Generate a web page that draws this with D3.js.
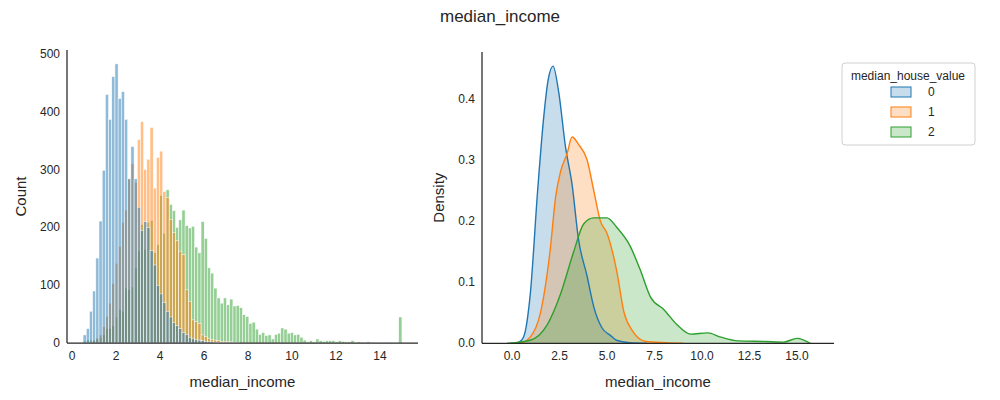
<!DOCTYPE html>
<html><head><meta charset="utf-8">
<script src="https://cdn.jsdelivr.net/npm/d3@7"></script>
<style>body{margin:0;background:#fff}text{font-family:"Liberation Sans",Arial,sans-serif;fill:#262626}</style>
</head><body><svg id="c" width="1000" height="400"></svg>
<script>
const binStart = 0.4999, binWidth = 0.145;
const classes = ["0","1","2"];
const colors = ["#1f77b4","#ff7f0e","#2ca02c"];
const hist0 = [14,25,55,90,147,211,299,430,387,461,483,423,435,387,284,340,284,235,195,210,200,160,135,100,85,70,55,45,35,30,25,18,15,10,8,6,5,4,3,2,2,1,1,1,1,1,1,1];
const hist1 = [0,1,2,4,8,14,28,46,69,103,138,167,208,230,284,310,278,352,383,300,318,373,268,321,332,262,252,214,191,177,159,153,92,72,40,37,34,14,11,8,6,5,4,3,3,2,2,1,1];
const hist2 = [3,5,5,5,8,10,14,25,25,30,45,58,55,95,92,97,130,159,205,162,209,212,156,170,255,190,265,240,229,200,213,230,203,199,202,166,156,210,181,130,121,95,78,69,78,
66,76,64,65,61,49,46,34,36,24,15,18,13,14,7,15,17,26,24,17,18,14,15,10,5,2,4,2,7,4,3,4,4,4,2,4,3,2,2,4,1,2,1,1,2,1,1,0,1,0,1,1,0,0,45];
const kde0 = [[0.2,0],[0.5,0.005],[0.7,0.02],[0.96,0.08],[1.35,0.25],[1.67,0.37],[1.9,0.43],[2.16,0.453],[2.46,0.41],[2.82,0.32],[3.16,0.26],[3.5,0.17],[3.95,0.11],[4.3,0.06],[4.74,0.025],[5.18,0.013],[5.5,0.005],[6.2,0.001],[7.1,0]];
const kde1 = [[0.44,0],[0.96,0.01],[1.5,0.05],[2.0,0.15],[2.3,0.24],[2.55,0.28],[2.9,0.31],[3.16,0.337],[3.5,0.325],[3.95,0.3],[4.3,0.25],[4.65,0.2],[5.0,0.18],[5.5,0.12],[5.9,0.05],[6.35,0.02],[7.05,0.003],[8.1,0.001],[9,0]];
const kde2 = [[-0.26,0],[0.96,0.005],[1.85,0.03],[2.55,0.08],[3.25,0.15],[3.77,0.195],[4.3,0.205],[5.0,0.205],[5.5,0.19],[6.2,0.16],[6.75,0.12],[7.3,0.075],[8.0,0.055],[8.7,0.03],[9.4,0.015],[10.3,0.017],[11.0,0.01],[11.9,0.004],[13.3,0.003],[14.3,0.002],[15.0,0.008],[15.7,0]];
const hTicks = [0,2,4,6,8,10,12,14], countTicks = [0,100,200,300,400,500];
const kTicks = [0,2.5,5,7.5,10,12.5,15], dTicks = [0,0.1,0.2,0.3,0.4];

const svg = d3.select("#c");
svg.append("text").attr("x",500).attr("y",22).attr("text-anchor","middle").attr("font-size",17).text("median_income");

// left histogram
const x1 = d3.scaleLinear().domain([-0.23,15.73]).range([67,418]);
const y1 = d3.scaleLinear().domain([0,507]).range([343,50]);
const gH = svg.append("g");
[hist2,hist1,hist0].forEach((h,k)=>{
  const ci = 2-k;
  gH.selectAll(null).data(h.map((v,i)=>({v,i}))).enter().append("rect")
    .attr("x",d=>x1(binStart+d.i*binWidth)).attr("width",d=>x1(binStart+binWidth)-x1(binStart))
    .attr("y",d=>y1(d.v)).attr("height",d=>y1(0)-y1(d.v))
    .attr("fill",colors[ci]).attr("fill-opacity",0.5).attr("stroke","#fff").attr("stroke-width",0.5);
});
function axes(x,y,xt,yt,xf,yf,xl,yl,ylx){
  const g=svg.append("g");
  g.append("line").attr("x1",x.range()[0]).attr("x2",x.range()[0]).attr("y1",y.range()[0]).attr("y2",y.range()[1]).attr("stroke","#262626").attr("stroke-width",1.25);
  g.append("line").attr("x1",x.range()[0]).attr("x2",x.range()[1]).attr("y1",y.range()[0]).attr("y2",y.range()[0]).attr("stroke","#262626").attr("stroke-width",1.25);
  xt.forEach(t=>g.append("text").attr("x",x(t)).attr("y",y.range()[0]+17).attr("text-anchor","middle").attr("font-size",12).text(xf(t)));
  yt.forEach(t=>g.append("text").attr("x",x.range()[0]-7).attr("y",y(t)+4).attr("text-anchor","end").attr("font-size",12).text(yf(t)));
  g.append("text").attr("x",(x.range()[0]+x.range()[1])/2).attr("y",387).attr("text-anchor","middle").attr("font-size",15).text(xl);
  g.append("text").attr("transform",`translate(${ylx},${(y.range()[0]+y.range()[1])/2}) rotate(-90)`).attr("text-anchor","middle").attr("font-size",15).text(yl);
}
axes(x1,y1,hTicks,countTicks,d=>d,d=>d,"median_income","Count",26);

// right KDE
const x2 = d3.scaleLinear().domain([-1.58,16.95]).range([482,834]);
const y2 = d3.scaleLinear().domain([0,0.476]).range([343.3,52]);
const area = d3.area().curve(d3.curveMonotoneX).x(d=>x2(d[0])).y0(y2(0)).y1(d=>y2(d[1]));
const line = d3.line().curve(d3.curveMonotoneX).x(d=>x2(d[0])).y(d=>y2(d[1]));
[kde0,kde1,kde2].forEach((k,i)=>{
  svg.append("path").attr("d",area(k)).attr("fill",colors[i]).attr("fill-opacity",0.25);
});
[kde0,kde1,kde2].forEach((k,i)=>{
  svg.append("path").attr("d",line(k)).attr("fill","none").attr("stroke",colors[i]).attr("stroke-width",1.4);
});
axes(x2,y2,kTicks,dTicks,d3.format(".1f"),d3.format(".1f"),"median_income","Density",444);

// legend
const lg = svg.append("g");
lg.append("rect").attr("x",842).attr("y",63).attr("width",133).attr("height",82).attr("rx",3).attr("fill","#fff").attr("stroke","#d0d0d0");
lg.append("text").attr("x",908).attr("y",80).attr("text-anchor","middle").attr("font-size",12).text("median_house_value");
classes.forEach((c,i)=>{
  const yy = 92+i*20;
  lg.append("rect").attr("x",891).attr("y",yy-5).attr("width",20).attr("height",10).attr("fill",colors[i]).attr("fill-opacity",0.25).attr("stroke",colors[i]);
  lg.append("text").attr("x",928).attr("y",yy+4).attr("font-size",12).text(c);
});
</script></body></html>
